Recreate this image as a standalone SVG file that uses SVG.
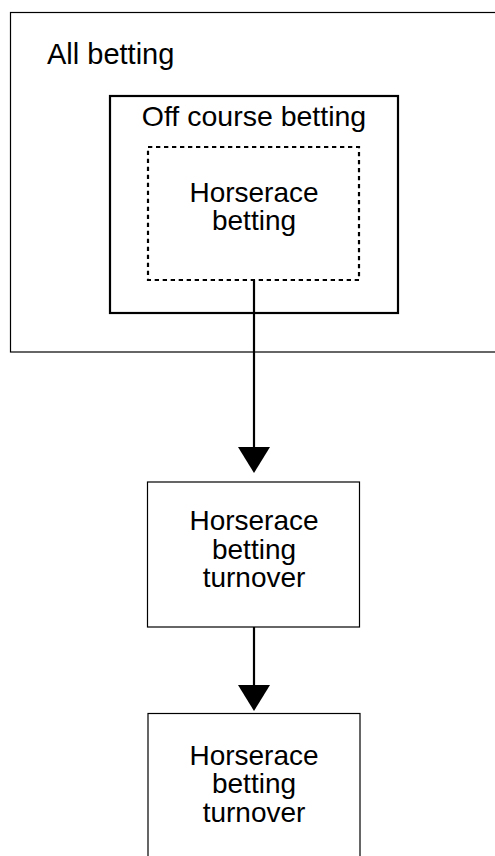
<svg xmlns="http://www.w3.org/2000/svg" width="495" height="856" viewBox="0 0 495 856">
<style>
  .t { font-family: "Liberation Sans", Arial, sans-serif; fill: #000; }
  .c { text-anchor: middle; }
  .thin { fill: none; stroke: #000; stroke-width: 1.2; }
  .thick { fill: none; stroke: #000; stroke-width: 2.2; }
  .dash { fill: none; stroke: #000; stroke-width: 2.2; stroke-dasharray: 4.3 3.7; }
  .conn { stroke: #000; stroke-width: 2.2; fill: none; }
  .head { fill: #000; stroke: none; }
</style>
<rect width="495" height="856" fill="#fff"/>
<g id="all-betting">
  <rect class="thin" x="10.5" y="12.5" width="500" height="339.5"/>
  <text class="t" x="47" y="64" font-size="29">All betting</text>
</g>
<g id="off-course-betting">
  <rect class="thick" x="110" y="96" width="288" height="217"/>
  <text class="t c" x="254" y="126" font-size="28.5">Off course betting</text>
</g>
<g id="horserace-betting">
  <rect class="dash" x="148" y="147" width="211" height="133"/>
  <text class="t c" font-size="28"><tspan x="254" y="201.5">Horserace</tspan><tspan x="254" y="230">betting</tspan></text>
</g>
<g id="turnover-1">
  <rect class="thin" x="147.5" y="482" width="212" height="145"/>
  <text class="t c" font-size="28"><tspan x="254" y="530">Horserace</tspan><tspan x="254" y="559">betting</tspan><tspan x="254" y="587">turnover</tspan></text>
</g>
<g id="turnover-2">
  <rect class="thin" x="148" y="713.5" width="212" height="200"/>
  <text class="t c" font-size="28"><tspan x="254" y="764.5">Horserace</tspan><tspan x="254" y="793">betting</tspan><tspan x="254" y="822">turnover</tspan></text>
</g>
<g id="connectors">
  <line class="conn" x1="254" y1="280" x2="254" y2="448"/>
  <polygon class="head" points="238,447 270,447 254,473"/>
  <line class="conn" x1="254" y1="627" x2="254" y2="686"/>
  <polygon class="head" points="238,685 270,685 254,711"/>
</g>
</svg>
